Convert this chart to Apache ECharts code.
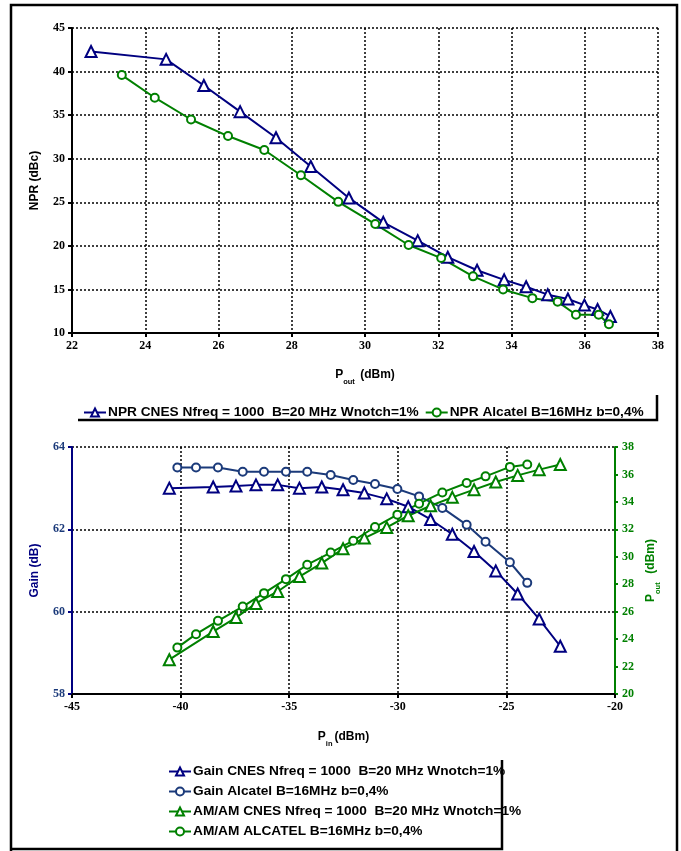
<!DOCTYPE html>
<html>
<head>
<meta charset="utf-8">
<script src="https://cdn.jsdelivr.net/npm/echarts@6/dist/echarts.min.js"></script>
<style>
html,body{margin:0;padding:0;background:#fff;}
#c{width:681px;height:851px;}
</style>
</head>
<body>
<div id="c"></div>
<script>
// ---- Top chart: NPR vs Pout ----
const nprCnesPout = [22.52, 24.57, 25.6, 26.59, 27.57, 28.52, 29.56, 30.5, 31.44, 32.26, 33.06, 33.8, 34.4, 34.99, 35.54, 35.99, 36.35, 36.7];
const nprCnes     = [42.3, 41.4, 38.4, 35.4, 32.4, 29.1, 25.5, 22.7, 20.6, 18.7, 17.2, 16.1, 15.3, 14.4, 13.9, 13.2, 12.7, 11.9];
const nprAlcPout  = [23.36, 24.26, 25.25, 26.26, 27.25, 28.25, 29.27, 30.28, 31.19, 32.08, 32.95, 33.77, 34.57, 35.26, 35.76, 36.38, 36.66];
const nprAlc      = [39.6, 37.0, 34.5, 32.6, 31.0, 28.1, 25.05, 22.5, 20.1, 18.6, 16.5, 15.0, 14.0, 13.6, 12.1, 12.1, 11.0];

// ---- Bottom chart: Gain and AM/AM vs Pin ----
const pinCnes  = [-40.52, -38.5, -37.45, -36.53, -35.53, -34.53, -33.5, -32.52, -31.54, -30.51, -29.52, -28.49, -27.49, -26.49, -25.49, -24.48, -23.49, -22.52];
const gainCnes = [63.0, 63.03, 63.05, 63.08, 63.08, 63.0, 63.03, 62.96, 62.88, 62.74, 62.55, 62.24, 61.88, 61.46, 60.99, 60.43, 59.82, 59.16];
const amamCnes = [22.5, 24.55, 25.57, 26.6, 27.47, 28.56, 29.54, 30.58, 31.36, 32.14, 32.99, 33.72, 34.33, 34.89, 35.45, 35.93, 36.35, 36.72];
const pinAlc   = [-40.15, -39.29, -38.28, -37.14, -36.16, -35.15, -34.17, -33.09, -32.05, -31.05, -30.02, -29.02, -27.95, -26.83, -25.96, -24.84, -24.04];
const gainAlc  = [63.5, 63.5, 63.5, 63.4, 63.4, 63.4, 63.4, 63.32, 63.2, 63.1, 62.98, 62.8, 62.52, 62.11, 61.7, 61.2, 60.7];
const amamAlc  = [23.38, 24.36, 25.33, 26.37, 27.35, 28.37, 29.42, 30.31, 31.17, 32.17, 33.07, 33.87, 34.69, 35.38, 35.86, 36.55, 36.72];

// ---- Texts ----
const nameNprCnes = 'NPR CNES Nfreq = 1000  B=20 MHz Wnotch=1%';
const nameNprAlc  = 'NPR Alcatel B=16MHz b=0,4%';
const nameGainCnes = 'Gain CNES Nfreq = 1000  B=20 MHz Wnotch=1%';
const nameGainAlc  = 'Gain Alcatel B=16MHz b=0,4%';
const nameAmCnes   = 'AM/AM CNES Nfreq = 1000  B=20 MHz Wnotch=1%';
const nameAmAlc    = 'AM/AM ALCATEL B=16MHz b=0,4%';

const zip = (a, b) => a.map((v, i) => [v, b[i]]);

const NAVY = '#000080';
const NAVY2 = '#1b3a7a';
const GREEN = '#008000';
const serif = '"Liberation Serif", "Times New Roman", serif';
const sans = '"Liberation Sans", Arial, sans-serif';
const dotted = { color: '#000', width: 1.5, type: [2, 2] };

const tickLabel = (color) => ({ fontFamily: serif, fontWeight: 'bold', fontSize: 12, color: color, margin: 7 });
const subRich = (color) => ({
  a: { fontFamily: sans, fontWeight: 'bold', fontSize: 12, color: color },
  s: { fontFamily: sans, fontWeight: 'bold', fontSize: 7.5, color: color, verticalAlign: 'bottom', padding: [0, 2, -5, 0] }
});

const chart = echarts.init(document.getElementById('c'), null, { renderer: 'canvas' });

const option = {
  backgroundColor: '#fff',
  animation: false,
  grid: [
    { left: 72, top: 28, width: 586, height: 305 },
    { left: 72, top: 447, width: 543, height: 247 }
  ],
  xAxis: [
    {
      gridIndex: 0, type: 'value', min: 22, max: 38, interval: 2,
      axisLine: { show: true, onZero: false, lineStyle: { color: '#000', width: 2 } },
      axisTick: { show: true, length: 4, lineStyle: { color: '#000', width: 2 } },
      axisLabel: tickLabel('#000'),
      splitLine: { show: true, lineStyle: dotted },
      name: '{a|P}{s|out}{a| (dBm)}', nameLocation: 'middle', nameGap: 36,
      nameTextStyle: { rich: subRich('#000') }
    },
    {
      gridIndex: 1, type: 'value', min: -45, max: -20, interval: 5,
      axisLine: { show: true, onZero: false, lineStyle: { color: '#000', width: 2 } },
      axisTick: { show: true, length: 4, lineStyle: { color: '#000', width: 2 } },
      axisLabel: tickLabel('#000'),
      splitLine: { show: true, lineStyle: dotted },
      name: '{a|P}{s|in}{a|(dBm)}', nameLocation: 'middle', nameGap: 37,
      nameTextStyle: { rich: subRich('#000') }
    }
  ],
  yAxis: [
    {
      gridIndex: 0, type: 'value', min: 10, max: 45, interval: 5,
      axisLine: { show: true, onZero: false, lineStyle: { color: '#000', width: 2 } },
      axisTick: { show: true, length: 4, lineStyle: { color: '#000', width: 2 } },
      axisLabel: tickLabel('#000'),
      splitLine: { show: true, lineStyle: dotted },
      name: 'NPR (dBc)', nameLocation: 'middle', nameGap: 31, nameRotate: 90,
      nameTextStyle: { fontFamily: sans, fontWeight: 'bold', fontSize: 12, color: '#000' }
    },
    {
      gridIndex: 1, type: 'value', min: 58, max: 64, interval: 2, position: 'left',
      axisLine: { show: true, onZero: false, lineStyle: { color: NAVY, width: 2 } },
      axisTick: { show: true, length: 4, lineStyle: { color: NAVY, width: 2 } },
      axisLabel: tickLabel(NAVY2),
      splitLine: { show: true, lineStyle: dotted },
      name: 'Gain (dB)', nameLocation: 'middle', nameGap: 31, nameRotate: 90,
      nameTextStyle: { fontFamily: sans, fontWeight: 'bold', fontSize: 12, color: NAVY }
    },
    {
      gridIndex: 1, type: 'value', min: 20, max: 38, interval: 2, position: 'right',
      axisLine: { show: true, onZero: false, lineStyle: { color: GREEN, width: 2 } },
      axisTick: { show: true, length: 3, inside: false, lineStyle: { color: GREEN, width: 2 } },
      axisLabel: tickLabel(GREEN),
      splitLine: { show: false },
      name: '{a|P}{s|out}{a|  (dBm)}', nameLocation: 'middle', nameGap: 29, nameRotate: 90,
      nameTextStyle: { rich: subRich(GREEN) }
    }
  ],
  legend: [
    {
      data: [nameNprCnes, nameNprAlc],
      left: 78, top: 400, orient: 'horizontal', itemWidth: 22, itemHeight: 10, itemGap: 6,
      textStyle: { fontFamily: sans, fontWeight: 'bold', fontSize: 13.7, lineHeight: 15, color: '#000', padding: [0, 0, 0, -3] },
      selectedMode: false
    },
    {
      data: [nameGainCnes, nameGainAlc, nameAmCnes, nameAmAlc],
      left: 163, top: 759, orient: 'vertical', itemWidth: 22, itemHeight: 10, itemGap: 5,
      textStyle: { fontFamily: sans, fontWeight: 'bold', fontSize: 13.7, lineHeight: 15, color: '#000', padding: [0, 0, 0, -3] },
      selectedMode: false
    }
  ],
  series: [
    {
      name: nameNprCnes, type: 'line', xAxisIndex: 0, yAxisIndex: 0,
      data: zip(nprCnesPout, nprCnes),
      symbol: 'emptyTriangle', symbolSize: 11,
      lineStyle: { color: NAVY, width: 2 }, itemStyle: { color: NAVY, borderWidth: 2 }
    },
    {
      name: nameNprAlc, type: 'line', xAxisIndex: 0, yAxisIndex: 0,
      data: zip(nprAlcPout, nprAlc),
      symbol: 'emptyCircle', symbolSize: 8,
      lineStyle: { color: GREEN, width: 2 }, itemStyle: { color: GREEN, borderWidth: 2 }
    },
    {
      name: nameGainCnes, type: 'line', xAxisIndex: 1, yAxisIndex: 1,
      data: zip(pinCnes, gainCnes),
      symbol: 'emptyTriangle', symbolSize: 11,
      lineStyle: { color: NAVY, width: 2 }, itemStyle: { color: NAVY, borderWidth: 2 }
    },
    {
      name: nameGainAlc, type: 'line', xAxisIndex: 1, yAxisIndex: 1,
      data: zip(pinAlc, gainAlc),
      symbol: 'emptyCircle', symbolSize: 8,
      lineStyle: { color: NAVY2, width: 2 }, itemStyle: { color: NAVY2, borderWidth: 2 }
    },
    {
      name: nameAmCnes, type: 'line', xAxisIndex: 1, yAxisIndex: 2,
      data: zip(pinCnes, amamCnes),
      symbol: 'emptyTriangle', symbolSize: 11,
      lineStyle: { color: GREEN, width: 2 }, itemStyle: { color: GREEN, borderWidth: 2 }
    },
    {
      name: nameAmAlc, type: 'line', xAxisIndex: 1, yAxisIndex: 2,
      data: zip(pinAlc, amamAlc),
      symbol: 'emptyCircle', symbolSize: 8,
      lineStyle: { color: GREEN, width: 2 }, itemStyle: { color: GREEN, borderWidth: 2 }
    }
  ],
  graphic: [
    { type: 'polyline', silent: true, shape: { points: [[11, 851], [11, 5], [677, 5], [677, 851]] },
      style: { stroke: '#000', lineWidth: 2.5, fill: null } },
    { type: 'polyline', silent: true, shape: { points: [[78, 420], [657, 420], [657, 395]] },
      style: { stroke: '#000', lineWidth: 2.5, fill: null } },
    { type: 'polyline', silent: true, shape: { points: [[12, 849], [502, 849], [502, 760]] },
      style: { stroke: '#000', lineWidth: 2.5, fill: null } }
  ]
};
chart.setOption(option);
</script>
</body>
</html>
